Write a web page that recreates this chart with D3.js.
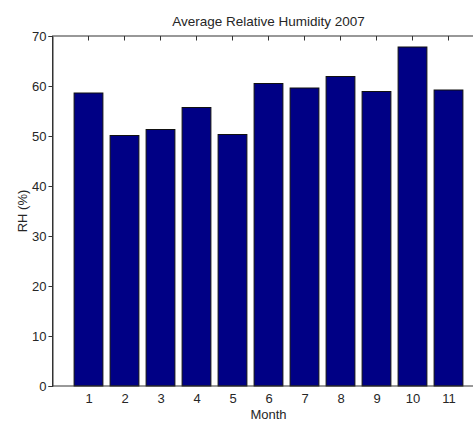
<!DOCTYPE html>
<html>
<head>
<meta charset="utf-8">
<script src="https://cdn.jsdelivr.net/npm/d3@7"></script>
<style>
  body { margin: 0; background: #fff; }
  svg text { font-family: "Liberation Sans", Arial, sans-serif; }
</style>
</head>
<body>
<svg width="473" height="423"></svg>
<script>
const months = [1, 2, 3, 4, 5, 6, 7, 8, 9, 10, 11];
const humidity = [58.6, 50.1, 51.3, 55.7, 50.3, 60.5, 59.6, 61.9, 58.9, 67.8, 59.2];
const yTicks = [0, 10, 20, 30, 40, 50, 60, 70];

const svg = d3.select("svg");

const plotLeft = 52.5, plotRight = 484.5, plotTop = 36, plotBottom = 386;
const textColor = "#262626";

const x = d3.scaleLinear().domain([0, 12]).range([plotLeft, plotRight]);
const y = d3.scaleLinear().domain([0, 70]).range([plotBottom, plotTop]);
const barW = (x(1) - x(0)) * 0.8;

// bars
svg.selectAll(".bar")
  .data(months)
  .enter()
  .append("rect")
  .attr("class", "bar")
  .attr("x", d => x(d) - barW / 2)
  .attr("y", (d, i) => y(humidity[i]))
  .attr("width", barW)
  .attr("height", (d, i) => y(0) - y(humidity[i]))
  .attr("fill", "#000085")
  .attr("stroke", "#111")
  .attr("stroke-width", 1);

// box
svg.append("rect")
  .attr("x", plotLeft)
  .attr("y", plotTop)
  .attr("width", plotRight - plotLeft)
  .attr("height", plotBottom - plotTop)
  .attr("fill", "none")
  .attr("stroke", "#333")
  .attr("stroke-width", 1);

// left axis, ticks outward
const yAxis = svg.append("g")
  .attr("transform", `translate(${plotLeft},0)`)
  .call(d3.axisLeft(y).tickValues(yTicks).tickSize(4).tickPadding(2));
yAxis.select(".domain").attr("stroke", "#333");
yAxis.selectAll(".tick line").attr("stroke", "#333");
yAxis.selectAll("text")
  .attr("font-size", "13px")
  .attr("fill", textColor)
  .attr("font-family", "Liberation Sans, Arial, sans-serif");

// bottom tick labels
const xAxis = svg.append("g")
  .attr("transform", `translate(0,${plotBottom})`)
  .call(d3.axisBottom(x).tickValues(months).tickFormat(d3.format("d")).tickSize(0).tickPadding(8));
xAxis.select(".domain").remove();
xAxis.selectAll("text")
  .attr("font-size", "13px")
  .attr("fill", textColor)
  .attr("font-family", "Liberation Sans, Arial, sans-serif");

// top ticks, inward
svg.selectAll(".top-tick")
  .data(months)
  .enter()
  .append("line")
  .attr("class", "top-tick")
  .attr("x1", d => x(d))
  .attr("x2", d => x(d))
  .attr("y1", plotTop)
  .attr("y2", plotTop + 4.5)
  .attr("stroke", "#333");

// title and labels
svg.append("text")
  .attr("x", (plotLeft + plotRight) / 2)
  .attr("y", 26)
  .attr("text-anchor", "middle")
  .attr("font-size", "13.5px")
  .attr("fill", textColor)
  .text("Average Relative Humidity 2007");

svg.append("text")
  .attr("x", (plotLeft + plotRight) / 2)
  .attr("y", 419)
  .attr("text-anchor", "middle")
  .attr("font-size", "13px")
  .attr("fill", textColor)
  .text("Month");

svg.append("text")
  .attr("transform", `translate(27,${(plotTop + plotBottom) / 2}) rotate(-90)`)
  .attr("text-anchor", "middle")
  .attr("font-size", "13px")
  .attr("fill", textColor)
  .text("RH (%)");
</script>
</body>
</html>
